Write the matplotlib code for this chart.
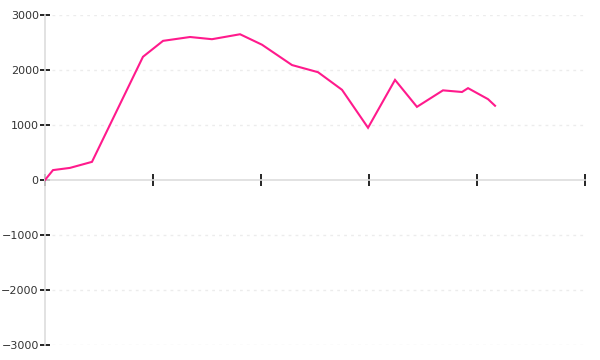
import matplotlib
matplotlib.use("Agg")
import matplotlib.pyplot as plt

# positions along the x axis (one unit = one tick interval)
x_vals = [0.0, 0.074, 0.231, 0.435, 0.907, 1.093, 1.343, 1.546, 1.806, 2.009,
          2.287, 2.528, 2.750, 2.991, 3.241, 3.444, 3.685, 3.861, 3.917, 4.102, 4.167]
y_vals = [0, 180, 220, 330, 2240, 2530, 2600, 2560, 2650, 2460,
          2090, 1960, 1640, 950, 1820, 1330, 1630, 1600, 1670, 1470, 1350]

y_ticks = [-3000, -2000, -1000, 0, 1000, 2000, 3000]
x_ticks = [0, 1, 2, 3, 4, 5]

fig = plt.figure(figsize=(6, 3.6), dpi=100)
ax = fig.add_axes([0.075, 15 / 360, 0.9, 330 / 360])

ax.plot(x_vals, y_vals, color='#ff1a8c', linewidth=1.5, solid_joinstyle='miter', zorder=3)

ax.set_xlim(0, 5)
ax.set_ylim(-3000, 3000)
ax.set_xticks(x_ticks)
ax.set_xticklabels([])
ax.set_yticks(y_ticks)
ax.set_yticklabels([f"\u2212{-v}" if v < 0 else str(v) for v in y_ticks])

for s in ['top', 'right']:
    ax.spines[s].set_visible(False)
ax.spines['bottom'].set_position(('data', 0))
ax.spines['bottom'].set_color('#dddddd')
ax.spines['left'].set_color('#dddddd')
ax.spines['bottom'].set_linewidth(1.2)
ax.spines['left'].set_linewidth(1.2)

ax.tick_params(axis='x', direction='inout', length=9, width=1.2, color='black')
ax.tick_params(axis='y', direction='inout', length=7, width=1.2, color='black',
               labelsize=8, labelcolor='#333333', pad=1)

# faint dotted grid, starting a bit right of the y axis
for v in y_ticks:
    if v != 0:
        ax.axhline(v, xmin=0.013, color='#ececec', linewidth=1,
                   linestyle=(0, (2, 3)), zorder=1)

fig.savefig('out.png', dpi=100)
